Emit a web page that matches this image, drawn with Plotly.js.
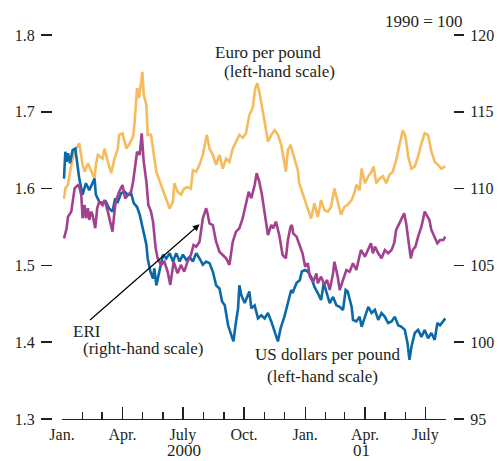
<!DOCTYPE html>
<html>
<head>
<meta charset="utf-8">
<script src="https://cdn.plot.ly/plotly-3.0.1.min.js"></script>
<style>html,body{margin:0;padding:0;background:#fff;}#chart{width:499px;height:461px;}</style>
</head>
<body>
<div id="chart"></div>
<script>
// Euro per pound (left-hand scale)
const eurDates = ['2000-01-04','2000-01-06','2000-01-10','2000-01-15','2000-01-20','2000-01-25','2000-01-27','2000-02-01','2000-02-04','2000-02-09','2000-02-14','2000-02-19','2000-02-21','2000-02-24','2000-03-02','2000-03-05','2000-03-10','2000-03-15','2000-03-20','2000-03-25','2000-03-27','2000-04-01','2000-04-07','2000-04-12','2000-04-17','2000-04-19','2000-04-23','2000-04-26','2000-05-01','2000-05-03','2000-05-07','2000-05-09','2000-05-14','2000-05-17','2000-05-22','2000-05-29','2000-06-06','2000-06-11','2000-06-16','2000-06-18','2000-06-23','2000-06-28','2000-07-03','2000-07-08','2000-07-13','2000-07-16','2000-07-21','2000-07-26','2000-07-31','2000-08-03','2000-08-06','2000-08-10','2000-08-15','2000-08-20','2000-08-25','2000-08-30','2000-09-04','2000-09-09','2000-09-14','2000-09-19','2000-09-24','2000-09-29','2000-10-04','2000-10-09','2000-10-14','2000-10-18','2000-10-21','2000-10-24','2000-10-27','2000-11-01','2000-11-06','2000-11-11','2000-11-16','2000-11-21','2000-11-26','2000-12-01','2000-12-03','2000-12-06','2000-12-10','2000-12-15','2000-12-21','2000-12-23','2000-12-28','2001-01-01','2001-01-05','2001-01-10','2001-01-15','2001-01-20','2001-01-25','2001-01-30','2001-02-04','2001-02-09','2001-02-14','2001-02-19','2001-02-24','2001-03-01','2001-03-06','2001-03-12','2001-03-16','2001-03-19','2001-03-24','2001-03-27','2001-04-01','2001-04-06','2001-04-11','2001-04-14','2001-04-18','2001-04-23','2001-04-28','2001-05-03','2001-05-08','2001-05-13','2001-05-18','2001-05-23','2001-05-28','2001-06-01','2001-06-05','2001-06-10','2001-06-15','2001-06-20','2001-06-25','2001-06-30','2001-07-05','2001-07-10','2001-07-15','2001-07-20','2001-07-25','2001-07-31'];
const eurValues = [1.587,1.600,1.605,1.631,1.648,1.657,1.659,1.631,1.622,1.633,1.622,1.613,1.631,1.644,1.639,1.652,1.635,1.620,1.639,1.652,1.670,1.672,1.652,1.659,1.668,1.683,1.731,1.718,1.752,1.722,1.709,1.670,1.670,1.652,1.622,1.605,1.587,1.574,1.583,1.607,1.596,1.592,1.600,1.602,1.600,1.624,1.622,1.631,1.644,1.659,1.670,1.652,1.644,1.631,1.644,1.626,1.639,1.635,1.652,1.661,1.670,1.666,1.672,1.696,1.705,1.731,1.737,1.726,1.709,1.687,1.661,1.670,1.676,1.670,1.657,1.631,1.622,1.650,1.657,1.642,1.624,1.607,1.594,1.585,1.572,1.561,1.581,1.563,1.585,1.572,1.570,1.576,1.600,1.581,1.566,1.576,1.579,1.585,1.594,1.605,1.598,1.626,1.607,1.616,1.622,1.629,1.607,1.613,1.616,1.607,1.618,1.622,1.637,1.657,1.676,1.668,1.642,1.626,1.629,1.642,1.659,1.672,1.670,1.648,1.635,1.631,1.626,1.629];

// US dollars per pound (left-hand scale)
const usdDates = ['2000-01-04','2000-01-05','2000-01-06','2000-01-08','2000-01-10','2000-01-13','2000-01-17','2000-01-21','2000-01-25','2000-01-27','2000-02-01','2000-02-06','2000-02-11','2000-02-16','2000-02-19','2000-02-21','2000-02-26','2000-03-02','2000-03-07','2000-03-12','2000-03-17','2000-03-21','2000-03-25','2000-03-30','2000-04-04','2000-04-09','2000-04-14','2000-04-18','2000-04-23','2000-04-27','2000-05-02','2000-05-07','2000-05-09','2000-05-13','2000-05-17','2000-05-19','2000-05-22','2000-05-27','2000-06-01','2000-06-06','2000-06-11','2000-06-16','2000-06-21','2000-06-26','2000-07-01','2000-07-06','2000-07-11','2000-07-16','2000-07-21','2000-07-26','2000-07-31','2000-08-05','2000-08-10','2000-08-15','2000-08-20','2000-08-25','2000-08-29','2000-09-02','2000-09-07','2000-09-12','2000-09-15','2000-09-19','2000-09-22','2000-09-24','2000-09-27','2000-10-02','2000-10-07','2000-10-09','2000-10-12','2000-10-17','2000-10-22','2000-10-27','2000-11-01','2000-11-06','2000-11-11','2000-11-16','2000-11-21','2000-11-25','2000-12-01','2000-12-06','2000-12-11','2000-12-13','2000-12-19','2000-12-24','2000-12-27','2001-01-01','2001-01-05','2001-01-10','2001-01-15','2001-01-20','2001-01-25','2001-01-29','2001-02-02','2001-02-07','2001-02-12','2001-02-17','2001-02-22','2001-02-27','2001-03-03','2001-03-06','2001-03-12','2001-03-14','2001-03-19','2001-03-24','2001-03-27','2001-04-01','2001-04-06','2001-04-11','2001-04-16','2001-04-21','2001-04-26','2001-05-01','2001-05-06','2001-05-11','2001-05-16','2001-05-21','2001-05-26','2001-05-31','2001-06-04','2001-06-07','2001-06-10','2001-06-15','2001-06-20','2001-06-25','2001-06-30','2001-07-05','2001-07-10','2001-07-15','2001-07-19','2001-07-23','2001-07-28','2001-07-31'];
const usdValues = [1.613,1.644,1.648,1.635,1.646,1.633,1.650,1.652,1.626,1.613,1.592,1.607,1.598,1.607,1.613,1.592,1.583,1.581,1.583,1.574,1.570,1.587,1.583,1.594,1.596,1.592,1.594,1.581,1.576,1.566,1.548,1.527,1.509,1.492,1.483,1.496,1.474,1.496,1.514,1.509,1.516,1.505,1.516,1.505,1.514,1.507,1.511,1.505,1.516,1.509,1.501,1.505,1.503,1.492,1.474,1.470,1.453,1.448,1.422,1.409,1.401,1.427,1.444,1.474,1.461,1.451,1.461,1.466,1.444,1.448,1.431,1.435,1.431,1.438,1.427,1.414,1.401,1.418,1.434,1.451,1.468,1.464,1.477,1.481,1.492,1.494,1.492,1.485,1.472,1.464,1.455,1.477,1.464,1.451,1.459,1.448,1.446,1.442,1.468,1.466,1.446,1.429,1.427,1.433,1.420,1.433,1.446,1.438,1.442,1.429,1.438,1.433,1.425,1.427,1.433,1.422,1.420,1.416,1.399,1.377,1.394,1.412,1.416,1.407,1.416,1.405,1.412,1.403,1.425,1.422,1.427,1.431];

// Sterling ERI, 1990 = 100 (right-hand scale)
const eriDates = ['2000-01-04','2000-01-06','2000-01-08','2000-01-10','2000-01-15','2000-01-20','2000-01-25','2000-01-27','2000-01-30','2000-02-01','2000-02-04','2000-02-06','2000-02-09','2000-02-11','2000-02-14','2000-02-16','2000-02-20','2000-02-23','2000-02-26','2000-03-02','2000-03-05','2000-03-10','2000-03-14','2000-03-17','2000-03-20','2000-03-22','2000-03-27','2000-04-01','2000-04-05','2000-04-09','2000-04-14','2000-04-17','2000-04-20','2000-04-23','2000-04-27','2000-04-30','2000-05-03','2000-05-07','2000-05-10','2000-05-14','2000-05-17','2000-05-21','2000-05-24','2000-05-29','2000-06-03','2000-06-08','2000-06-12','2000-06-17','2000-06-23','2000-06-28','2000-07-03','2000-07-08','2000-07-13','2000-07-17','2000-07-21','2000-07-26','2000-07-31','2000-08-05','2000-08-07','2000-08-10','2000-08-15','2000-08-20','2000-08-25','2000-08-30','2000-09-04','2000-09-09','2000-09-14','2000-09-19','2000-09-24','2000-09-29','2000-10-04','2000-10-08','2000-10-12','2000-10-17','2000-10-20','2000-10-24','2000-10-28','2000-11-01','2000-11-06','2000-11-11','2000-11-14','2000-11-18','2000-11-23','2000-11-28','2000-12-01','2000-12-03','2000-12-06','2000-12-10','2000-12-12','2000-12-14','2000-12-19','2000-12-23','2000-12-28','2001-01-01','2001-01-05','2001-01-08','2001-01-13','2001-01-18','2001-01-20','2001-01-25','2001-01-30','2001-02-03','2001-02-07','2001-02-12','2001-02-14','2001-02-19','2001-02-22','2001-02-27','2001-03-04','2001-03-09','2001-03-14','2001-03-19','2001-03-24','2001-03-26','2001-04-01','2001-04-06','2001-04-10','2001-04-13','2001-04-16','2001-04-21','2001-04-26','2001-05-01','2001-05-06','2001-05-11','2001-05-15','2001-05-18','2001-05-23','2001-05-27','2001-05-30','2001-06-02','2001-06-06','2001-06-09','2001-06-12','2001-06-16','2001-06-20','2001-06-25','2001-06-30','2001-07-04','2001-07-07','2001-07-10','2001-07-15','2001-07-19','2001-07-23','2001-07-28','2001-07-31'];
const eriValues = [106.76,107.2,107.42,108.17,108.5,110.02,110.23,110.12,109.58,108.07,108.93,108.07,108.72,107.96,108.5,108.28,107.42,108.72,109.15,108.93,109.26,108.5,107.85,107.2,108.5,109.15,109.8,110.23,109.37,109.58,109.8,110.45,111.54,112.4,112.19,113.6,111.75,110.45,108.93,108.5,107.85,106.11,105.46,105.03,105.24,104.59,103.73,105.24,104.48,105.03,104.59,105.24,105.68,106.33,106.22,106.54,108.07,108.72,108.39,107.74,107.63,106.54,105.89,105.68,105.46,105.03,106.54,107.2,107.42,108.07,109.15,109.8,109.37,110.23,111.0,110.45,109.58,108.28,106.98,107.63,107.42,107.85,106.98,105.68,105.57,105.46,106.65,107.52,107.63,107.09,106.87,106.44,105.79,104.92,105.14,104.27,103.94,104.48,103.84,104.27,103.73,104.05,103.4,104.48,105.24,104.27,103.4,104.05,104.7,104.59,105.14,104.7,105.57,106.0,105.57,106.11,106.44,105.79,106.22,105.79,105.46,106.0,105.79,106.0,106.44,107.31,107.74,108.17,108.39,107.74,106.44,105.46,106.0,106.22,106.87,107.52,108.5,108.17,107.96,107.31,106.87,106.44,106.65,106.65,106.87];

// Axis ticks
const majorTickVals = ['2000-01-01','2000-04-01','2000-07-01','2000-10-01','2001-01-01','2001-04-01','2001-07-01'];
const majorTickText = ['Jan.','Apr.','July','Oct.','Jan.','Apr.','July'];
const minorTickVals = ['2000-02-01','2000-03-01','2000-05-01','2000-06-01','2000-08-01','2000-09-01','2000-11-01','2000-12-01','2001-02-01','2001-03-01','2001-05-01','2001-06-01','2001-08-01'];
const leftTicks = [1.3,1.4,1.5,1.6,1.7,1.8];
const leftTickText = ['1.3','1.4','1.5','1.6','1.7','1.8'];
const rightTicks = [95,100,105,110,115,120];

const INK = '#231f20';
const FONT = 'Liberation Serif, Times New Roman, serif';

const traces = [
  {x: eurDates, y: eurValues, type: 'scatter', mode: 'lines', yaxis: 'y',
   line: {color: '#F6BB5C', width: 2.6}, hoverinfo: 'skip'},
  {x: usdDates, y: usdValues, type: 'scatter', mode: 'lines', yaxis: 'y',
   line: {color: '#0B69A9', width: 2.6}, hoverinfo: 'skip'},
  {x: eriDates, y: eriValues, type: 'scatter', mode: 'lines', yaxis: 'y2',
   line: {color: '#A2428F', width: 2.6}, hoverinfo: 'skip'}
];

const W = 401; // plot-area width in px (499 - 52 - 46)
const layout = {
  width: 499, height: 461,
  margin: {l: 52, r: 46, t: 35, b: 42, pad: 0},
  paper_bgcolor: '#fff', plot_bgcolor: '#fff',
  showlegend: false,
  font: {family: FONT, size: 16, color: INK},
  xaxis: {
    type: 'date', domain: [10 / W, 394 / W],
    range: ['2000-01-01', '2001-08-01'],
    showgrid: false, zeroline: false,
    showline: true, linecolor: INK, linewidth: 1.3,
    ticks: 'inside', ticklen: 12, tickwidth: 1.3, tickcolor: INK,
    tickmode: 'array', tickvals: majorTickVals, ticktext: majorTickText,
    tickfont: {family: FONT, size: 16, color: INK},
    minor: {ticks: 'inside', ticklen: 7, tickwidth: 1.3, tickcolor: INK,
            tickmode: 'array', tickvals: minorTickVals, showgrid: false},
    fixedrange: true
  },
  yaxis: {
    range: [1.3, 1.8], anchor: 'free', position: 0,
    showgrid: false, zeroline: false, showline: false,
    ticks: 'outside', ticklen: 11, tickwidth: 1.5, tickcolor: INK,
    tickmode: 'array', tickvals: leftTicks, ticktext: leftTickText,
    ticklabelstandoff: 3,
    tickfont: {family: FONT, size: 16, color: INK}, fixedrange: true
  },
  yaxis2: {
    range: [95, 120], overlaying: 'y', side: 'right', anchor: 'free', position: 1,
    showgrid: false, zeroline: false, showline: false,
    ticks: 'outside', ticklen: 10, tickwidth: 1.5, tickcolor: INK,
    tickmode: 'array', tickvals: rightTicks,
    ticklabelstandoff: 3,
    tickfont: {family: FONT, size: 16, color: INK}, fixedrange: true
  },
  annotations: [
    {text: '1990 = 100', xref: 'paper', yref: 'paper', x: (465 - 52) / W, y: (419 - 22) / 384,
     xanchor: 'right', yanchor: 'middle', showarrow: false, font: {family: FONT, size: 17, color: INK}},
    {text: 'Euro per pound', xref: 'paper', yref: 'paper', x: (267.5 - 52) / W, y: (419 - 52) / 384,
     xanchor: 'center', yanchor: 'middle', showarrow: false, font: {family: FONT, size: 17, color: INK}},
    {text: '(left-hand scale)', xref: 'paper', yref: 'paper', x: (279 - 52) / W, y: (419 - 72) / 384,
     xanchor: 'center', yanchor: 'middle', showarrow: false, font: {family: FONT, size: 17, color: INK}},
    {text: 'ERI', xref: 'paper', yref: 'paper', x: (71 - 52) / W, y: (419 - 331.7) / 384,
     xanchor: 'left', yanchor: 'middle', showarrow: false, font: {family: FONT, size: 17, color: INK}},
    {text: '(right-hand scale)', xref: 'paper', yref: 'paper', x: (81 - 52) / W, y: (419 - 348.3) / 384,
     xanchor: 'left', yanchor: 'middle', showarrow: false, font: {family: FONT, size: 17, color: INK}},
    {text: 'US dollars per pound', xref: 'paper', yref: 'paper', x: (327.5 - 52) / W, y: (419 - 354) / 384,
     xanchor: 'center', yanchor: 'middle', showarrow: false, font: {family: FONT, size: 17, color: INK}},
    {text: '(left-hand scale)', xref: 'paper', yref: 'paper', x: (322 - 52) / W, y: (419 - 376) / 384,
     xanchor: 'center', yanchor: 'middle', showarrow: false, font: {family: FONT, size: 17, color: INK}},
    {text: '2000', xref: 'paper', yref: 'paper', x: (184 - 52) / W, y: (419 - 450) / 384,
     xanchor: 'center', yanchor: 'middle', showarrow: false, font: {family: FONT, size: 17, color: INK}},
    {text: '01', xref: 'paper', yref: 'paper', x: (361.7 - 52) / W, y: (419 - 450) / 384,
     xanchor: 'center', yanchor: 'middle', showarrow: false, font: {family: FONT, size: 17, color: INK}},
    {text: '', xref: 'x', yref: 'y', x: '2000-07-26', y: 1.5535,
     showarrow: true, arrowhead: 2, arrowsize: 1.1, arrowwidth: 1.2, arrowcolor: '#000',
     ax: -111, ay: 97, standoff: 0}
  ]
};

Plotly.newPlot('chart', traces, layout, {displayModeBar: false, staticPlot: true});
</script>
</body>
</html>
